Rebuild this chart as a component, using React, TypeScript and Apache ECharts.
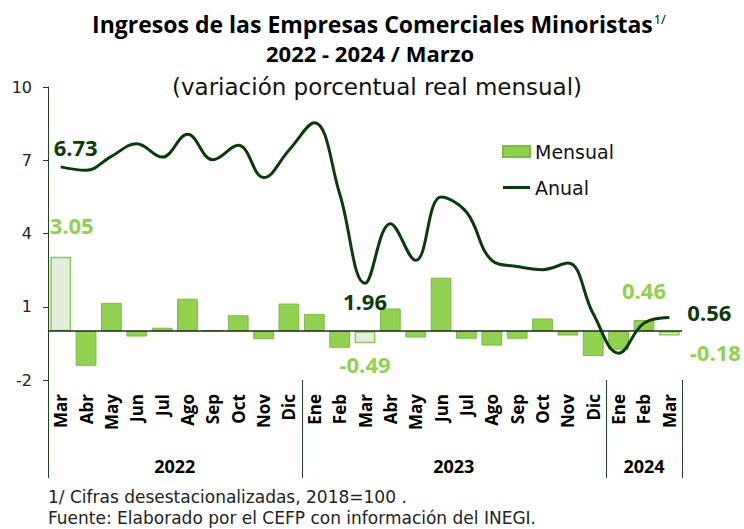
import React, { useEffect, useRef } from 'react';
import * as echarts from 'echarts';

const months = ['Mar','Abr','May','Jun','Jul','Ago','Sep','Oct','Nov','Dic','Ene','Feb','Mar','Abr','May','Jun','Jul','Ago','Sep','Oct','Nov','Dic','Ene','Feb','Mar'];
const yearLabels = ['2022', '2023', '2024'];
const yearStarts = [0, 10, 22];
const yearEnds = [9, 21, 24];
const mensual = [3.05,-1.42,1.16,-0.22,0.14,1.33,0.04,0.65,-0.33,1.13,0.70,-0.68,-0.49,0.93,-0.26,2.19,-0.31,-0.59,-0.31,0.52,-0.18,-1.02,-0.76,0.46,-0.18];
const anual = [6.73,6.59,7.16,7.68,7.13,8.06,7.02,7.61,6.29,7.41,8.54,5.63,1.96,4.40,2.90,5.49,4.88,2.90,2.65,2.52,2.79,0.71,-0.90,0.33,0.56];
const yTicks = [-2, 1, 4, 7, 10];
const highlightBars = [0, 12, 24];
const barLabelIdx = [0, 12, 23, 24];
const lineLabelIdx = [0, 12, 24];

const FONT = '"Open Sans", sans-serif';
const WIDE = '"DejaVu Sans", sans-serif';
const BAR = '#92D050';
const BAR_BORDER = '#7DBA45';
const LIGHT = '#E2EFDA';
const LIGHT_BORDER = '#8DC760';
const DARK = '#0B3A0B';
const AXIS = '#1E4620';

const barLabelCfg: Record<number, any> = {
  0: { position: 'top', offset: [11, -16] },
  12: { position: 'bottom', offset: [0, 5] },
  23: { position: 'top', offset: [0, -14] },
  24: { position: 'bottom', offset: [46, 0] },
};
const lineLabelOffset: Record<number, number[]> = {
  0: [15, -20],
  12: [0, 18],
  24: [40, -5],
};

export default function App() {
  const ref = useRef<HTMLDivElement>(null);
  useEffect(() => {
    if (!ref.current) return;
    const chart = echarts.init(ref.current, null, { renderer: 'svg' });

    const barData = mensual.map((v, i) => {
      const item: any = { value: v };
      if (highlightBars.includes(i)) {
        item.itemStyle = { color: LIGHT, borderColor: LIGHT_BORDER, borderWidth: 1.5 };
      }
      if (barLabelIdx.includes(i)) {
        item.label = {
          show: true,
          ...barLabelCfg[i],
          distance: 5,
          color: BAR,
          fontFamily: FONT,
          fontWeight: 'bold',
          fontSize: 22,
          formatter: () => v.toFixed(2),
        };
      }
      return item;
    });

    const markPts = lineLabelIdx.map((i) => ({
      coord: [i, anual[i]],
      value: anual[i],
      label: {
        show: true,
        position: 'inside',
        offset: lineLabelOffset[i],
        color: DARK,
        fontFamily: FONT,
        fontWeight: 'bold',
        fontSize: 22,
        formatter: () => anual[i].toFixed(2),
      },
    }));

    const option: any = {
      animation: false,
      backgroundColor: '#ffffff',
      textStyle: { fontFamily: FONT },
      grid: { left: 48, right: 62, top: 87, bottom: 149, containLabel: false },
      legend: {
        data: [
          { name: 'Mensual', icon: 'rect' },
          { name: 'Anual', icon: 'path://M0,0 L27,0 L27,3 L0,3 Z' },
        ],
        orient: 'vertical',
        left: 497,
        top: 137,
        itemWidth: 27,
        itemHeight: 11,
        itemGap: 17,
        textStyle: { fontFamily: WIDE, fontSize: 19, color: '#111' },
      },
      xAxis: {
        type: 'category',
        data: months,
        axisLine: { show: false },
        axisTick: { show: false },
        axisLabel: {
          interval: 0,
          rotate: 90,
          margin: 14,
          fontFamily: FONT,
          fontWeight: 'bold',
          fontSize: 17,
          color: '#000',
        },
        splitLine: { show: false },
      },
      yAxis: {
        type: 'value',
        min: -2,
        max: 10,
        axisLine: { show: true, lineStyle: { color: AXIS, width: 1 } },
        axisTick: { show: true, length: 5, customValues: yTicks, lineStyle: { color: AXIS } },
        axisLabel: { customValues: yTicks, margin: 16, fontFamily: WIDE, fontSize: 16, color: '#222' },
        splitLine: { show: false },
      },
      series: [
        {
          name: 'Mensual',
          type: 'bar',
          data: barData,
          barCategoryGap: '18%',
          itemStyle: { color: BAR, borderColor: BAR_BORDER, borderWidth: 1 },
          markLine: {
            silent: true,
            symbol: 'none',
            label: { show: false },
            lineStyle: { color: '#1A2E1A', width: 1.5, type: 'solid' },
            data: [{ yAxis: 0 }],
          },
          z: 2,
        },
        {
          name: 'Anual',
          type: 'line',
          data: anual,
          smooth: 0.4,
          symbol: 'none',
          lineStyle: { color: DARK, width: 3 },
          itemStyle: { color: DARK },
          markPoint: {
            symbol: 'circle',
            symbolSize: 0,
            silent: true,
            data: markPts,
          },
          z: 3,
        },
      ],
    };
    chart.setOption(option);

    const px = (i: number) => chart.convertToPixel({ xAxisIndex: 0 }, i) as number;
    const band = px(1) - px(0);
    const yBottom = chart.convertToPixel({ yAxisIndex: 0 }, -2) as number;
    const lowEnd = yBottom + 98;
    const graphics: any[] = [];
    const bounds = [yearStarts[0], ...yearStarts.slice(1), yearEnds[yearEnds.length - 1] + 1];
    bounds.forEach((b) => {
      const x = Math.round(px(0) + (b - 0.5) * band) + 0.5;
      graphics.push({
        type: 'line',
        shape: { x1: x, y1: yBottom, x2: x, y2: lowEnd },
        style: { stroke: AXIS, lineWidth: 1 },
        silent: true,
      });
    });
    yearLabels.forEach((lab, k) => {
      const cx = (px(yearStarts[k]) + px(yearEnds[k])) / 2;
      graphics.push({
        type: 'text',
        x: cx,
        y: yBottom + 86,
        style: {
          text: lab,
          fontFamily: FONT,
          fontWeight: 'bold',
          fontSize: 18,
          fill: '#000',
          align: 'center',
          verticalAlign: 'middle',
        },
        silent: true,
      });
    });
    graphics.push(
      {
        type: 'text',
        x: 379,
        y: 24,
        style: {
          text: '{a|Ingresos de las Empresas Comerciales Minoristas}{s|1/}',
          align: 'center',
          verticalAlign: 'middle',
          rich: {
            a: { fontFamily: FONT, fontWeight: 'bold', fontSize: 23, fill: '#000', lineHeight: 24 },
            s: { fontFamily: FONT, fontSize: 13, fill: '#000', verticalAlign: 'top', lineHeight: 24, padding: [0, 0, 8, 1] },
          },
        },
        silent: true,
      },
      {
        type: 'text',
        x: 370,
        y: 53,
        style: {
          text: '2022 - 2024 / Marzo',
          fontFamily: FONT,
          fontWeight: 'bold',
          fontSize: 22,
          lineHeight: 24,
          fill: '#000',
          align: 'center',
          verticalAlign: 'middle',
        },
        silent: true,
      },
      {
        type: 'text',
        x: 377,
        y: 87,
        style: {
          text: '(variación porcentual real mensual)',
          fontFamily: WIDE,
          fontSize: 23,
          fill: '#111',
          align: 'center',
          verticalAlign: 'middle',
        },
        silent: true,
      },
      {
        type: 'text',
        x: 48,
        y: 497,
        style: {
          text: '1/ Cifras desestacionalizadas, 2018=100 .',
          fontFamily: WIDE,
          fontSize: 17,
          fill: '#222',
          align: 'left',
          verticalAlign: 'middle',
        },
        silent: true,
      },
      {
        type: 'text',
        x: 48,
        y: 518,
        style: {
          text: 'Fuente: Elaborado por el CEFP con información del INEGI.',
          fontFamily: WIDE,
          fontSize: 17,
          fill: '#222',
          align: 'left',
          verticalAlign: 'middle',
        },
        silent: true,
      }
    );
    chart.setOption({ graphic: graphics });

    return () => chart.dispose();
  }, []);

  return <div ref={ref} style={{ width: 744, height: 529, position: 'absolute', left: 0, top: 0 }} />;
}
